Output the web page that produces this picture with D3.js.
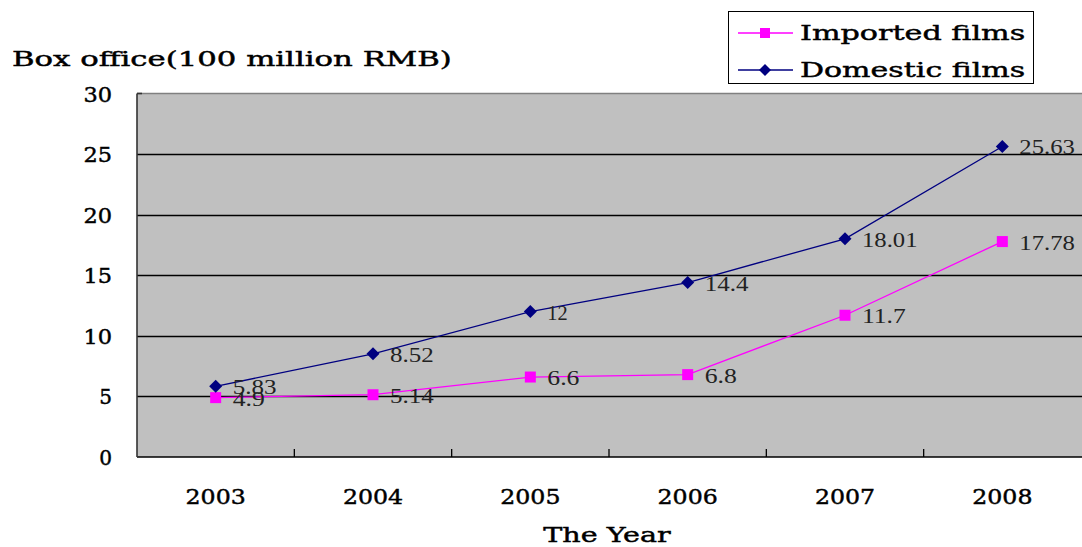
<!DOCTYPE html>
<html><head><meta charset="utf-8">
<script src="https://cdn.jsdelivr.net/npm/d3@7"></script>
<style>
body{margin:0;background:#fff;}
svg{display:block;}
.t{font-family:"DejaVu Serif","Liberation Serif",serif;font-size:21px;fill:#000;stroke:#000;stroke-width:0.45px;}
.lbl{font-family:"Liberation Serif","DejaVu Serif",serif;font-size:20px;fill:#222;}
</style></head>
<body>
<svg id="c" width="1082" height="547"></svg>
<script>
const years = ["2003","2004","2005","2006","2007","2008"];
const imported = [4.9, 5.14, 6.6, 6.8, 11.7, 17.78];
const domestic = [5.83, 8.52, 12, 14.4, 18.01, 25.63];
const yTicks = [0, 5, 10, 15, 20, 25, 30];
const seriesNames = ["Imported films", "Domestic films"];

const svg = d3.select("#c");
const L = 137, R = 1081, T = 93.5, B = 457;
const x = d3.scaleBand().domain(years).range([L, R]).paddingInner(0).paddingOuter(0);
const y = d3.scaleLinear().domain([0, 30]).range([B, T]);
const CH = 15.8;   // advance for big texts
const CL = 11.7;   // advance for data labels
const fit = (sel, adv) => sel.attr("textLength", function(){ return this.textContent.length * adv - 3; }).attr("lengthAdjust", "spacingAndGlyphs");

svg.append("rect").attr("x", L).attr("y", T).attr("width", 1082 - L).attr("height", B - T).attr("fill", "#C0C0C0");
svg.append("line").attr("x1", L).attr("x2", 1082).attr("y1", T).attr("y2", T).attr("stroke", "#808080").attr("stroke-width", 1.5);
svg.append("g").selectAll("line").data(yTicks.filter(d => d > 0 && d < 30)).join("line")
  .attr("x1", L).attr("x2", 1082).attr("y1", d => Math.round(y(d)) + 0.5).attr("y2", d => Math.round(y(d)) + 0.5)
  .attr("stroke", "#000").attr("stroke-width", 1.3);
svg.append("line").attr("x1", L).attr("x2", 1082).attr("y1", B).attr("y2", B).attr("stroke", "#000").attr("stroke-width", 1.5);
svg.append("g").selectAll("line").data(years.slice(1)).join("line")
  .attr("x1", d => x(d)).attr("x2", d => x(d)).attr("y1", B - 8).attr("y2", B)
  .attr("stroke", "#000").attr("stroke-width", 1.3);
svg.append("line").attr("x1", L).attr("x2", L).attr("y1", T).attr("y2", B).attr("stroke", "#333").attr("stroke-width", 1.6);
svg.append("line").attr("x1", L).attr("x2", L + 5).attr("y1", T).attr("y2", T).attr("stroke", "#333").attr("stroke-width", 1.6);

const ya = svg.append("g").attr("transform", `translate(112,0)`)
  .call(d3.axisLeft(y).tickValues(yTicks).tickSize(0).tickFormat(d3.format("d")));
ya.select(".domain").remove();
ya.selectAll("text").attr("class", "t").attr("font-size", null).attr("font-family", null).attr("fill", null).attr("dy", "0.36em").attr("x", 0);
fit(ya.selectAll("text"), CH);

const xa = svg.append("g").attr("transform", `translate(0,${B})`)
  .call(d3.axisBottom(x).tickSize(0));
xa.select(".domain").remove();
xa.selectAll("text").attr("class", "t").attr("font-size", null).attr("font-family", null).attr("fill", null).attr("y", 47).attr("dy", 0);
fit(xa.selectAll("text"), CH);

fit(svg.append("text").attr("class", "t").attr("x", 12).attr("y", 66).text("Box office(100 million RMB)"), 16.4);
fit(svg.append("text").attr("class", "t").attr("x", 607).attr("y", 542).attr("text-anchor", "middle").text("The Year"), 16.3);

const cx = d => x(d) + x.bandwidth() / 2;
const line = d3.line().x((d, i) => cx(years[i])).y(d => y(d));

function drawSeries(vals, color, shape) {
  svg.append("path").datum(vals).attr("d", line).attr("fill", "none").attr("stroke", color).attr("stroke-width", 1.3);
  const g = svg.append("g");
  vals.forEach((v, i) => {
    const px = cx(years[i]), py = y(v);
    if (shape === "square") {
      g.append("rect").attr("x", px - 5.5).attr("y", py - 5.5).attr("width", 11).attr("height", 11).attr("fill", color);
    } else {
      g.append("path").attr("d", `M${px},${py - 6.5}L${px + 6.5},${py}L${px},${py + 6.5}L${px - 6.5},${py}Z`).attr("fill", color);
    }
  });
}
drawSeries(imported, "#FF00FF", "square");
drawSeries(domestic, "#000080", "diamond");

function labels(vals) {
  const s = svg.append("g").selectAll("text").data(vals).join("text").attr("class", "lbl")
    .attr("x", (d, i) => cx(years[i]) + 17).attr("y", d => y(d) + 1)
    .attr("dominant-baseline", "central").text(d => String(d));
  fit(s, CL);
}
labels(imported);
labels(domestic);

const lg = svg.append("g");
lg.append("rect").attr("x", 728.5).attr("y", 11.5).attr("width", 305).attr("height", 72).attr("fill", "#fff").attr("stroke", "#000").attr("stroke-width", 1);
const rows = [{name: seriesNames[0], color: "#FF00FF", shape: "square", y: 33}, {name: seriesNames[1], color: "#000080", shape: "diamond", y: 70}];
rows.forEach(r => {
  lg.append("line").attr("x1", 738).attr("x2", 793).attr("y1", r.y).attr("y2", r.y).attr("stroke", r.color).attr("stroke-width", 1.3);
  if (r.shape === "square") lg.append("rect").attr("x", 760).attr("y", r.y - 5).attr("width", 10).attr("height", 10).attr("fill", r.color);
  else lg.append("path").attr("d", `M765,${r.y - 6}L771,${r.y}L765,${r.y + 6}L759,${r.y}Z`).attr("fill", r.color);
  fit(lg.append("text").attr("class", "t").attr("x", 800).attr("y", r.y).attr("dominant-baseline", "central").text(r.name), 16.3);
});
</script>
</body></html>
